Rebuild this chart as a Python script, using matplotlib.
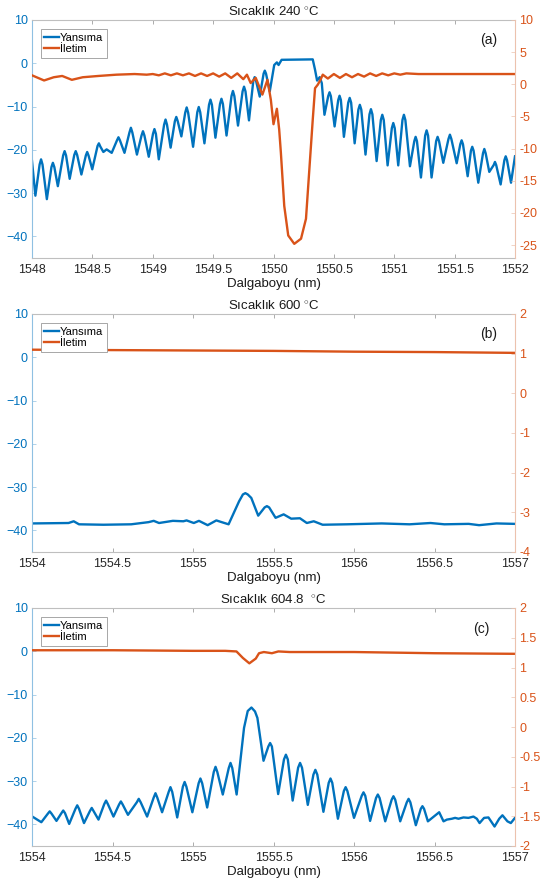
# FBG spectra at three temperatures: reflection (left axis) and
# transmission (right axis) vs. wavelength, MATLAB style yyaxis panels.

import matplotlib
matplotlib.use('Agg')
import matplotlib.pyplot as plt

plt.rcParams['font.family'] = ['Liberation Sans', 'DejaVu Sans']
plt.rcParams['mathtext.fontset'] = 'custom'
plt.rcParams['mathtext.rm'] = 'Liberation Sans'

BLUE = '#0072BD'
ORANGE = '#D95319'
GRAY = '#262626'

# ---- panel (a): 240 C ----
a_refl_x = [1548.000, 1548.028, 1548.063, 1548.075, 1548.087, 1548.123, 1548.161, 1548.173,
            1548.185, 1548.214, 1548.258, 1548.270, 1548.282, 1548.312, 1548.350, 1548.362,
            1548.374, 1548.409, 1548.446, 1548.457, 1548.468, 1548.499, 1548.543, 1548.554,
            1548.565, 1548.591, 1548.618, 1548.660, 1548.704, 1548.716, 1548.728, 1548.766,
            1548.807, 1548.819, 1548.831, 1548.869, 1548.907, 1548.919, 1548.931, 1548.967,
            1549.002, 1549.014, 1549.026, 1549.050, 1549.094, 1549.106, 1549.118, 1549.148,
            1549.183, 1549.195, 1549.207, 1549.237, 1549.269, 1549.281, 1549.293, 1549.334,
            1549.369, 1549.381, 1549.393, 1549.428, 1549.466, 1549.478, 1549.490, 1549.519,
            1549.557, 1549.569, 1549.581, 1549.611, 1549.652, 1549.664, 1549.676, 1549.706,
            1549.744, 1549.756, 1549.768, 1549.797, 1549.833, 1549.844, 1549.855, 1549.886,
            1549.918, 1549.928, 1549.938, 1549.969, 1550.006, 1550.028, 1550.042, 1550.067,
            1550.325, 1550.344, 1550.361, 1550.383, 1550.400, 1550.422, 1550.453, 1550.464,
            1550.475, 1550.506, 1550.536, 1550.547, 1550.558, 1550.583, 1550.619, 1550.631,
            1550.643, 1550.672, 1550.703, 1550.715, 1550.727, 1550.762, 1550.795, 1550.807,
            1550.819, 1550.854, 1550.889, 1550.901, 1550.913, 1550.945, 1550.980, 1550.992,
            1551.004, 1551.033, 1551.068, 1551.080, 1551.092, 1551.130, 1551.166, 1551.177,
            1551.188, 1551.221, 1551.256, 1551.268, 1551.280, 1551.309, 1551.347, 1551.359,
            1551.371, 1551.406, 1551.449, 1551.461, 1551.473, 1551.517, 1551.547, 1551.558,
            1551.569, 1551.608, 1551.635, 1551.646, 1551.657, 1551.696, 1551.735, 1551.746,
            1551.757, 1551.787, 1551.824, 1551.834, 1551.844, 1551.881, 1551.912, 1551.923,
            1551.934, 1551.967, 1552.000]
a_refl_y = [-22.6, -30.6, -23.4, -22.2, -23.4, -31.4, -24.0, -23.0,
            -24.0, -28.4, -21.3, -20.3, -21.3, -26.7, -21.2, -20.3,
            -21.2, -25.7, -21.3, -20.5, -21.3, -24.5, -19.1, -18.5,
            -19.2, -20.5, -19.9, -20.7, -17.8, -17.1, -17.8, -20.7,
            -16.0, -14.9, -16.0, -21.1, -16.7, -15.7, -16.7, -21.6,
            -16.3, -15.2, -16.3, -22.2, -14.2, -13.0, -14.2, -19.5,
            -13.4, -12.4, -13.4, -16.9, -11.4, -10.2, -11.4, -19.3,
            -11.3, -10.1, -11.3, -18.5, -9.6, -8.4, -9.6, -17.2,
            -9.4, -8.2, -9.4, -16.7, -7.6, -6.4, -7.6, -14.4,
            -6.5, -5.4, -6.5, -13.2, -4.0, -3.2, -4.0, -7.7,
            -2.4, -1.7, -2.4, -6.5, -0.4, 0.2, -0.4, 0.8,
            0.9, -1.5, -4.0, -3.2, -4.6, -11.9, -7.6, -6.7,
            -7.6, -14.6, -8.5, -7.5, -8.5, -17.0, -9.1, -8.0,
            -9.1, -18.5, -10.7, -9.6, -10.7, -21.1, -11.8, -10.6,
            -11.8, -22.6, -13.1, -11.9, -13.1, -23.6, -15.0, -13.8,
            -15.0, -23.6, -13.1, -11.9, -13.1, -23.8, -18.0, -17.0,
            -18.0, -26.4, -16.7, -15.5, -16.7, -26.4, -18.0, -17.0,
            -18.0, -23.0, -17.5, -16.5, -17.5, -23.1, -18.7, -17.8,
            -18.7, -26.1, -20.2, -19.3, -20.2, -27.6, -20.8, -19.8,
            -20.8, -25.1, -23.5, -22.8, -23.5, -28.0, -22.4, -21.5,
            -22.4, -27.6, -21.5]

a_trans_x = [1548.00, 1548.05, 1548.10, 1548.18, 1548.25, 1548.33, 1548.42, 1548.55,
             1548.70, 1548.85, 1548.95, 1549.00, 1549.05, 1549.10, 1549.15, 1549.20,
             1549.25, 1549.30, 1549.35, 1549.40, 1549.45, 1549.50, 1549.55, 1549.60,
             1549.65, 1549.70, 1549.75, 1549.78, 1549.811, 1549.853, 1549.908, 1549.950,
             1549.978, 1550.000, 1550.028, 1550.047, 1550.061, 1550.089, 1550.122,
             1550.172, 1550.228, 1550.269, 1550.297, 1550.325, 1550.344, 1550.367,
             1550.389, 1550.408, 1550.45, 1550.50, 1550.55, 1550.60, 1550.65, 1550.70,
             1550.75, 1550.80, 1550.85, 1550.90, 1550.95, 1551.00, 1551.05, 1551.10,
             1551.20, 1551.40, 1551.70, 1552.00]
a_trans_y = [1.4, 1.0, 0.6, 1.1, 1.3, 0.7, 1.1, 1.3,
             1.5, 1.6, 1.5, 1.6, 1.4, 1.7, 1.4, 1.7,
             1.4, 1.7, 1.3, 1.7, 1.3, 1.7, 1.2, 1.7,
             1.0, 1.7, 0.8, 1.5, 0.2, 1.0, -1.6, 0.7,
             -2.4, -6.2, -3.8, -7.0, -10.6, -18.9, -23.5,
             -24.8, -24.0, -20.9, -13.2, -5.5, -0.6, -0.05,
             0.7, 1.5, 0.9, 1.6, 1.0, 1.6, 1.1, 1.6,
             1.2, 1.7, 1.3, 1.7, 1.4, 1.7, 1.5, 1.7,
             1.6, 1.6, 1.6, 1.6]

# ---- panel (b): 600 C ----
b_refl_x = [1554.000, 1554.227, 1554.259, 1554.292, 1554.443, 1554.616, 1554.724,
            1554.756, 1554.789, 1554.875, 1554.940, 1554.960, 1555.005, 1555.037,
            1555.091, 1555.145, 1555.178, 1555.221, 1555.286, 1555.310, 1555.325,
            1555.340, 1555.362, 1555.405, 1555.445, 1555.459, 1555.473, 1555.513,
            1555.563, 1555.610, 1555.664, 1555.707, 1555.750, 1555.805, 1555.956,
            1556.172, 1556.345, 1556.475, 1556.561, 1556.712, 1556.777, 1556.885,
            1557.000]
b_refl_y = [-38.4, -38.3, -37.9, -38.6, -38.7, -38.6, -38.1,
            -37.8, -38.3, -37.8, -37.9, -37.7, -38.3, -37.8,
            -38.8, -37.7, -38.1, -38.6, -33.3, -31.7, -31.4,
            -31.7, -32.5, -36.6, -34.7, -34.4, -34.7, -37.1,
            -36.3, -37.3, -37.2, -38.3, -37.9, -38.7, -38.6,
            -38.4, -38.6, -38.3, -38.6, -38.5, -38.8, -38.4,
            -38.5]

b_trans_x = [1554.0, 1554.5, 1555.0, 1555.5, 1556.0, 1556.5, 1557.0]
b_trans_y = [1.10, 1.09, 1.08, 1.07, 1.05, 1.04, 1.02]

# ---- panel (c): 604.8 C ----
c_refl_x = [1554.002, 1554.058, 1554.099, 1554.110, 1554.121, 1554.152, 1554.183, 1554.194,
            1554.205, 1554.231, 1554.270, 1554.281, 1554.292, 1554.323, 1554.360, 1554.371,
            1554.382, 1554.413, 1554.449, 1554.460, 1554.471, 1554.506, 1554.541, 1554.552,
            1554.563, 1554.596, 1554.651, 1554.663, 1554.675, 1554.715, 1554.756, 1554.767,
            1554.778, 1554.808, 1554.849, 1554.860, 1554.871, 1554.902, 1554.937, 1554.948,
            1554.959, 1554.996, 1555.035, 1555.046, 1555.057, 1555.088, 1555.129, 1555.140,
            1555.151, 1555.185, 1555.222, 1555.233, 1555.244, 1555.271, 1555.296, 1555.317,
            1555.340, 1555.363, 1555.385, 1555.400, 1555.438, 1555.468, 1555.479, 1555.490,
            1555.529, 1555.565, 1555.577, 1555.589, 1555.619, 1555.653, 1555.665, 1555.677,
            1555.713, 1555.748, 1555.760, 1555.772, 1555.810, 1555.843, 1555.854, 1555.865,
            1555.900, 1555.937, 1555.948, 1555.959, 1556.000, 1556.048, 1556.059, 1556.070,
            1556.100, 1556.137, 1556.148, 1556.159, 1556.194, 1556.234, 1556.245, 1556.256,
            1556.287, 1556.328, 1556.339, 1556.350, 1556.384, 1556.415, 1556.425, 1556.435,
            1556.459, 1556.529, 1556.556, 1556.577, 1556.608, 1556.628, 1556.649, 1556.680,
            1556.711, 1556.742, 1556.763, 1556.780, 1556.808, 1556.835, 1556.873, 1556.902,
            1556.922, 1556.953, 1556.974, 1557.000]
c_refl_y = [-38.2, -39.5, -37.5, -37.0, -37.5, -39.2, -37.4, -36.8,
            -37.4, -39.9, -36.4, -35.6, -36.4, -39.7, -36.9, -36.2,
            -36.9, -38.9, -35.3, -34.5, -35.3, -38.2, -35.4, -34.7,
            -35.4, -37.8, -34.9, -34.1, -34.9, -38.2, -33.8, -32.8,
            -33.8, -37.2, -32.5, -31.4, -32.5, -38.4, -31.3, -30.2,
            -31.3, -37.2, -30.5, -29.4, -30.5, -36.1, -27.9, -26.7,
            -27.9, -33.1, -27.0, -25.8, -27.0, -33.1, -24.7, -17.7,
            -13.8, -13.0, -13.9, -15.4, -25.3, -22.0, -21.2, -22.0,
            -33.0, -25.0, -23.9, -25.0, -34.5, -26.9, -25.8, -26.9,
            -35.5, -28.5, -27.4, -28.5, -37.1, -30.4, -29.4, -30.4,
            -38.7, -32.3, -31.4, -32.3, -38.5, -33.4, -32.6, -33.4,
            -39.2, -33.9, -33.1, -33.9, -39.3, -34.3, -33.5, -34.3,
            -39.3, -34.9, -34.1, -34.9, -40.2, -36.4, -35.8, -36.4,
            -39.3, -37.2, -39.3, -38.9, -38.7, -38.5, -38.7, -38.4,
            -38.5, -38.2, -38.7, -39.7, -38.5, -38.4, -40.5, -38.7,
            -37.9, -39.3, -39.7, -38.5]

c_trans_x = [1554.0, 1554.5, 1555.0, 1555.2, 1555.27, 1555.31, 1555.35, 1555.39,
             1555.41, 1555.44, 1555.49, 1555.53, 1555.6, 1556.0, 1556.5, 1557.0]
c_trans_y = [1.29, 1.29, 1.28, 1.28, 1.27, 1.16, 1.07, 1.15,
             1.24, 1.26, 1.24, 1.27, 1.26, 1.26, 1.24, 1.23]

xticks_a = [1548, 1548.5, 1549, 1549.5, 1550, 1550.5, 1551, 1551.5, 1552]
xticks_bc = [1554, 1554.5, 1555, 1555.5, 1556, 1556.5, 1557]
left_ticks = [-40, -30, -20, -10, 0, 10]
right_ticks_a = [-25, -20, -15, -10, -5, 0, 5, 10]
right_ticks_b = [-4, -3, -2, -1, 0, 1, 2]
right_ticks_c = [-2, -1.5, -1, -0.5, 0, 0.5, 1, 1.5, 2]


def panel(rect, rx, ry, tx, ty, xticks, rticks, rlim, title, tag):
    ax = fig.add_axes(rect)
    ax2 = ax.twinx()
    l1, = ax.plot(rx, ry, color=BLUE, lw=1.7, solid_joinstyle='round')
    l2, = ax2.plot(tx, ty, color=ORANGE, lw=1.7, solid_joinstyle='round')

    ax.set_xlim(xticks[0], xticks[-1])
    ax.set_ylim(-45, 10)
    ax2.set_ylim(*rlim)
    ax.set_xticks(xticks)
    ax.set_xticklabels(['%g' % v for v in xticks])
    ax.set_yticks(left_ticks)
    ax2.set_yticks(rticks)
    ax2.set_yticklabels(['%g' % v for v in rticks])

    ax.tick_params(axis='x', direction='in', top=True, length=3, width=0.5,
                   colors='0.55', labelcolor=GRAY, labelsize=9, pad=4)
    ax.tick_params(axis='y', direction='in', length=3, width=0.5,
                   colors='#8fc0e2', labelcolor=BLUE, labelsize=9, pad=3)
    ax2.tick_params(axis='y', direction='in', length=3, width=0.5,
                    colors='#ecc2ae', labelcolor=ORANGE, labelsize=9, pad=3)

    for s in ['top', 'bottom']:
        ax.spines[s].set_color('0.75')
        ax.spines[s].set_linewidth(0.8)
    ax.spines['left'].set_color('#8fc0e2')
    ax.spines['right'].set_visible(False)
    for s in ['top', 'bottom', 'left']:
        ax2.spines[s].set_visible(False)
    ax2.spines['right'].set_color('#ecc2ae')
    ax.spines['left'].set_linewidth(0.8)
    ax2.spines['right'].set_linewidth(0.8)

    ax.set_title(title, fontsize=9.5, color='#1a1a1a', pad=3)
    ax.set_xlabel('Dalgaboyu (nm)', fontsize=9.5, color='#1a1a1a', labelpad=2)
    ax2.text(tag[1], tag[2], tag[0], transform=ax2.transAxes, fontsize=10,
             ha='center', va='center', color='#1a1a1a')

    leg = ax2.legend([l1, l2], ['Yansıma', 'İletim'], loc='upper left',
                     bbox_to_anchor=(0.012, 0.975), fontsize=8,
                     handlelength=1.3, handletextpad=0.1, borderpad=0.3,
                     labelspacing=0.15, fancybox=False, framealpha=1,
                     borderaxespad=0.3)
    leg.get_frame().set_edgecolor('0.6')
    leg.get_frame().set_linewidth(0.6)
    return ax, ax2


W, H = 542, 883
fig = plt.figure(figsize=(W / 100, H / 100), dpi=100)

left = 32 / W
width = (515 - 32) / W


def rect(top, bottom):
    return [left, 1 - bottom / H, width, (bottom - top) / H]


panel(rect(20, 258), a_refl_x, a_refl_y, a_trans_x, a_trans_y, xticks_a,
      right_ticks_a, (-27, 10), 'Sıcaklık 240 $^{\\circ}$C', ('(a)', 0.945, 0.915))
panel(rect(314, 552), b_refl_x, b_refl_y, b_trans_x, b_trans_y, xticks_bc,
      right_ticks_b, (-4, 2), 'Sıcaklık 600 $^{\\circ}$C', ('(b)', 0.945, 0.915))
panel(rect(608, 846), c_refl_x, c_refl_y, c_trans_x, c_trans_y, xticks_bc,
      right_ticks_c, (-2, 2), 'Sıcaklık 604.8  $^{\\circ}$C', ('(c)', 0.93, 0.91))

fig.savefig('out.png', dpi=100)
